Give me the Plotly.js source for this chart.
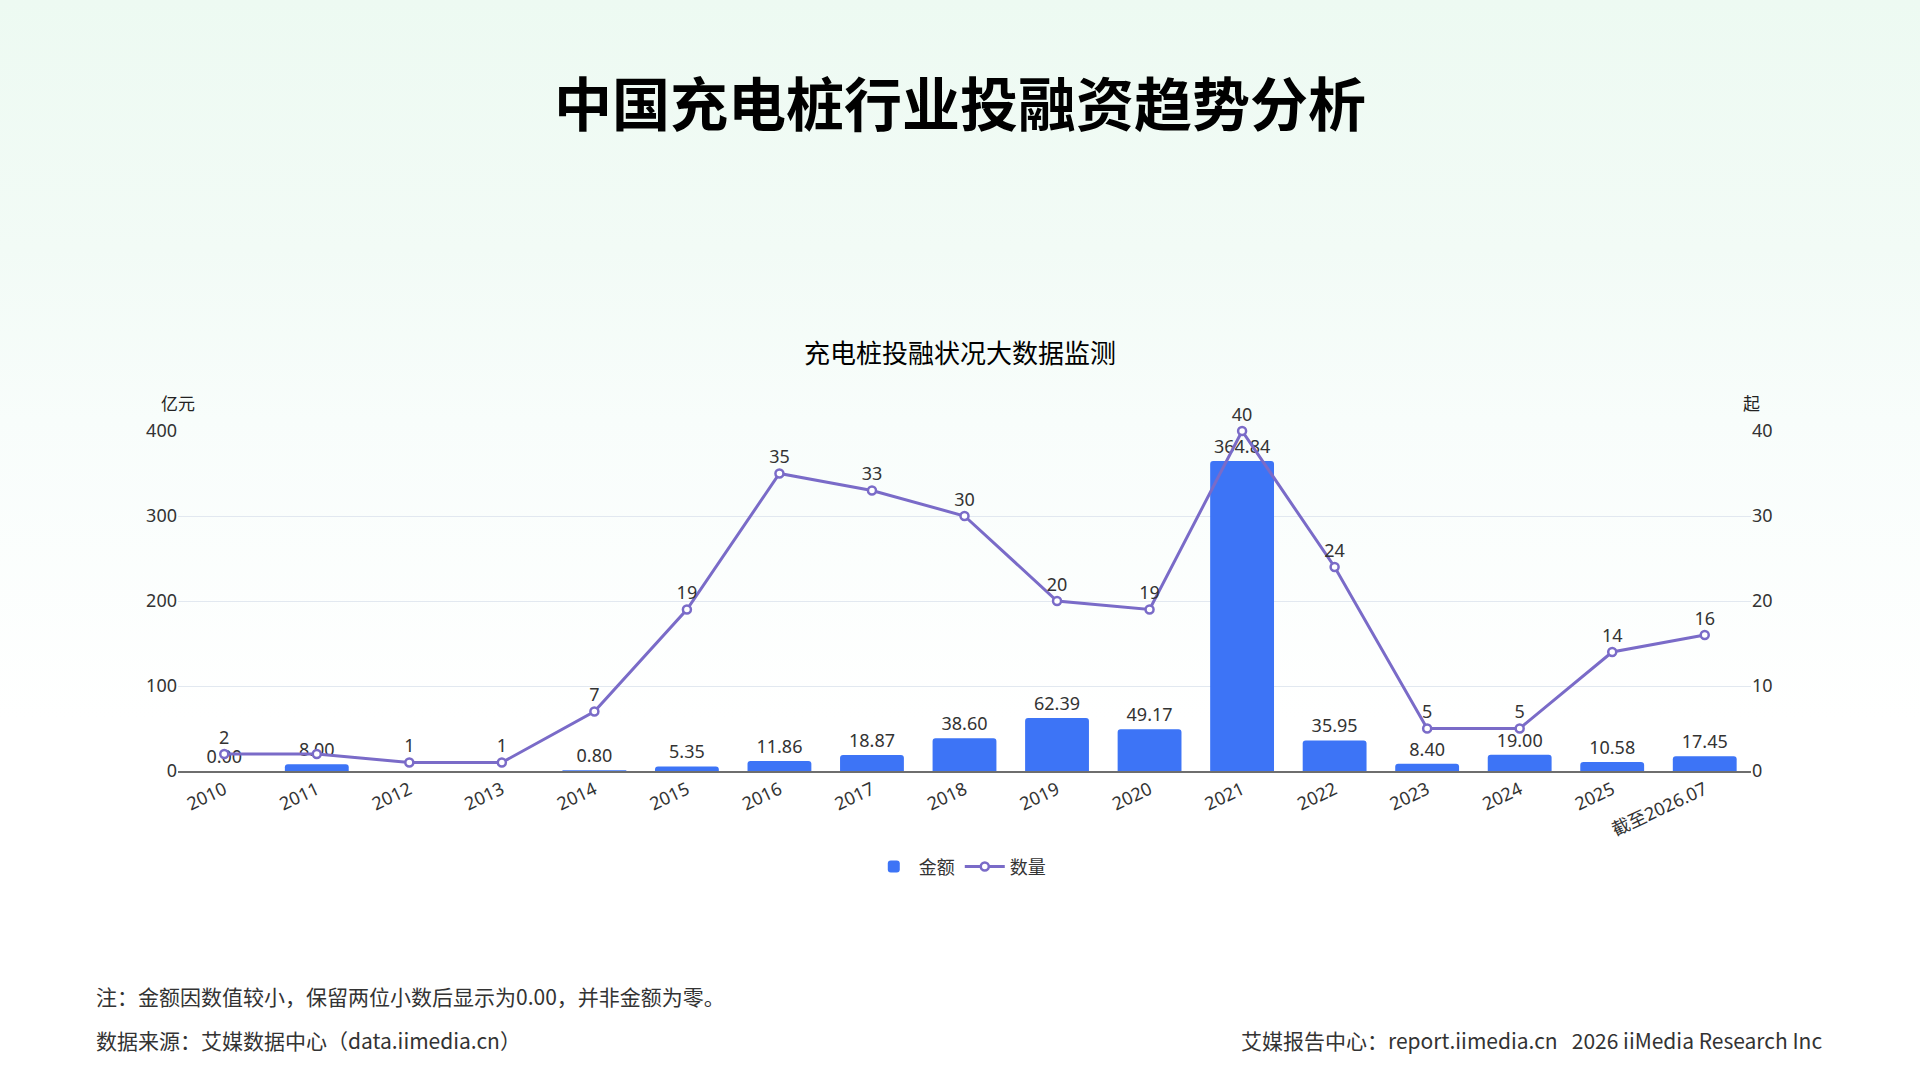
<!DOCTYPE html>
<html>
<head>
<meta charset="utf-8">
<script src="https://cdn.plot.ly/plotly-3.0.1.min.js"></script>
<style>
html,body{margin:0;padding:0;width:1920px;height:1080px;overflow:hidden;
background:linear-gradient(180deg,#edfaf2 0px,#f2fbf6 250px,#f8fdfb 420px,#ffffff 720px,#ffffff 1080px);}
#chart{width:1920px;height:1080px;}
</style>
</head>
<body>
<div id="chart"></div>
<script>
var categories = ['2010','2011','2012','2013','2014','2015','2016','2017','2018','2019','2020','2021','2022','2023','2024','2025','截至2026.07'];
var amounts = [0.001, 8.00, null, null, 0.80, 5.35, 11.86, 18.87, 38.60, 62.39, 49.17, 364.84, 35.95, 8.40, 19.00, 10.58, 17.45];
var counts = [2, 2, 1, 1, 7, 19, 35, 33, 30, 20, 19, 40, 24, 5, 5, 14, 16];
var countLabelsShown = [true, false, true, true, true, true, true, true, true, true, true, true, true, true, true, true, true];

var FONT = '"Noto Sans", "Noto Sans CJK SC", sans-serif';
var CJK = '"Noto Sans CJK SC", "Noto Sans", sans-serif';

var amountText = amounts.map(function(v){ return v === null ? '' : v.toFixed(2); });
var countText = counts.map(function(v,i){ return countLabelsShown[i] ? String(v) : ''; });

var traceBar = {
  type: 'bar', name: '金额', x: categories, y: amounts,
  text: amountText, textposition: 'outside', cliponaxis: false,
  textfont: {family: FONT, size: 18, color: '#333333'},
  marker: {color: '#3d74f6', cornerradius: 3},
  hoverinfo: 'x+y'
};
var traceLine = {
  type: 'scatter', mode: 'lines+markers+text', name: '数量', x: categories, y: counts,
  yaxis: 'y2', text: countText, textposition: 'top center', cliponaxis: false,
  textfont: {family: FONT, size: 18, color: '#333333'},
  line: {color: '#7a6bc8', width: 3},
  marker: {symbol: 'circle', size: 8, color: '#ffffff', line: {color: '#7a6bc8', width: 2.5}}
};

var layout = {
  width: 1920, height: 1080,
  paper_bgcolor: 'rgba(0,0,0,0)', plot_bgcolor: 'rgba(0,0,0,0)',
  margin: {l: 178, r: 169, t: 431, b: 309},
  font: {family: FONT, color: '#333333'},
  title: {text: '<b>中国充电桩行业投融资趋势分析</b>', x: 0.5, xanchor: 'center',
          y: 1 - 106/1080, yanchor: 'middle', yref: 'container',
          font: {family: CJK, size: 58, color: '#000000'}},
  bargap: 0.31,
  showlegend: true,
  legend: {orientation: 'h', x: 0.497, xanchor: 'center', y: -0.282, yanchor: 'middle',
           font: {family: CJK, size: 18, color: '#333333'}, itemwidth: 40},
  xaxis: {type: 'category', range: [-0.5, 16.5], tickangle: -25, showgrid: false, showline: true,
          linecolor: '#6e6e6e', linewidth: 1.5, ticks: '', tickfont: {family: FONT, size: 18, color: '#333333'},
          automargin: false},
  yaxis: {range: [0, 400], dtick: 100, showgrid: true, gridcolor: '#e2e8f0', gridwidth: 1,
          zeroline: false, showline: false, ticks: '', tickfont: {family: FONT, size: 18, color: '#333333'},
          automargin: false},
  yaxis2: {range: [0, 40], dtick: 10, overlaying: 'y', side: 'right', showgrid: false,
           zeroline: false, showline: false, ticks: '', tickfont: {family: FONT, size: 18, color: '#333333'},
           automargin: false},
  annotations: [
    {text: '充电桩投融状况大数据监测', xref: 'paper', yref: 'paper', x: 0.497, y: 1.235,
     xanchor: 'center', yanchor: 'middle', showarrow: false, font: {family: CJK, size: 26, color: '#000000'}},
    {text: '亿元', xref: 'paper', yref: 'paper', x: 0.0, y: 1.085,
     xanchor: 'center', yanchor: 'middle', showarrow: false, font: {family: CJK, size: 17, color: '#222222'}},
    {text: '起', xref: 'paper', yref: 'paper', x: 1.0, y: 1.085,
     xanchor: 'center', yanchor: 'middle', showarrow: false, font: {family: CJK, size: 17, color: '#222222'}},
    {text: '注：金额因数值较小，保留两位小数后显示为0.00，并非金额为零。', xref: 'paper', yref: 'paper',
     x: -0.0535, y: -0.662, xanchor: 'left', yanchor: 'middle', showarrow: false,
     font: {family: CJK, size: 21, color: '#333333'}},
    {text: '数据来源：艾媒数据中心（data.iimedia.cn）', xref: 'paper', yref: 'paper',
     x: -0.0535, y: -0.791, xanchor: 'left', yanchor: 'middle', showarrow: false,
     font: {family: CJK, size: 21, color: '#333333'}},
    {text: '艾媒报告中心：report.iimedia.cn   2026 iiMedia Research Inc', xref: 'paper', yref: 'paper',
     x: 1.0464, y: -0.791, xanchor: 'right', yanchor: 'middle', showarrow: false,
     font: {family: CJK, size: 21, color: '#333333'}}
  ]
};

Plotly.newPlot('chart', [traceBar, traceLine], layout, {displayModeBar: false, staticPlot: true});
</script>
</body>
</html>
